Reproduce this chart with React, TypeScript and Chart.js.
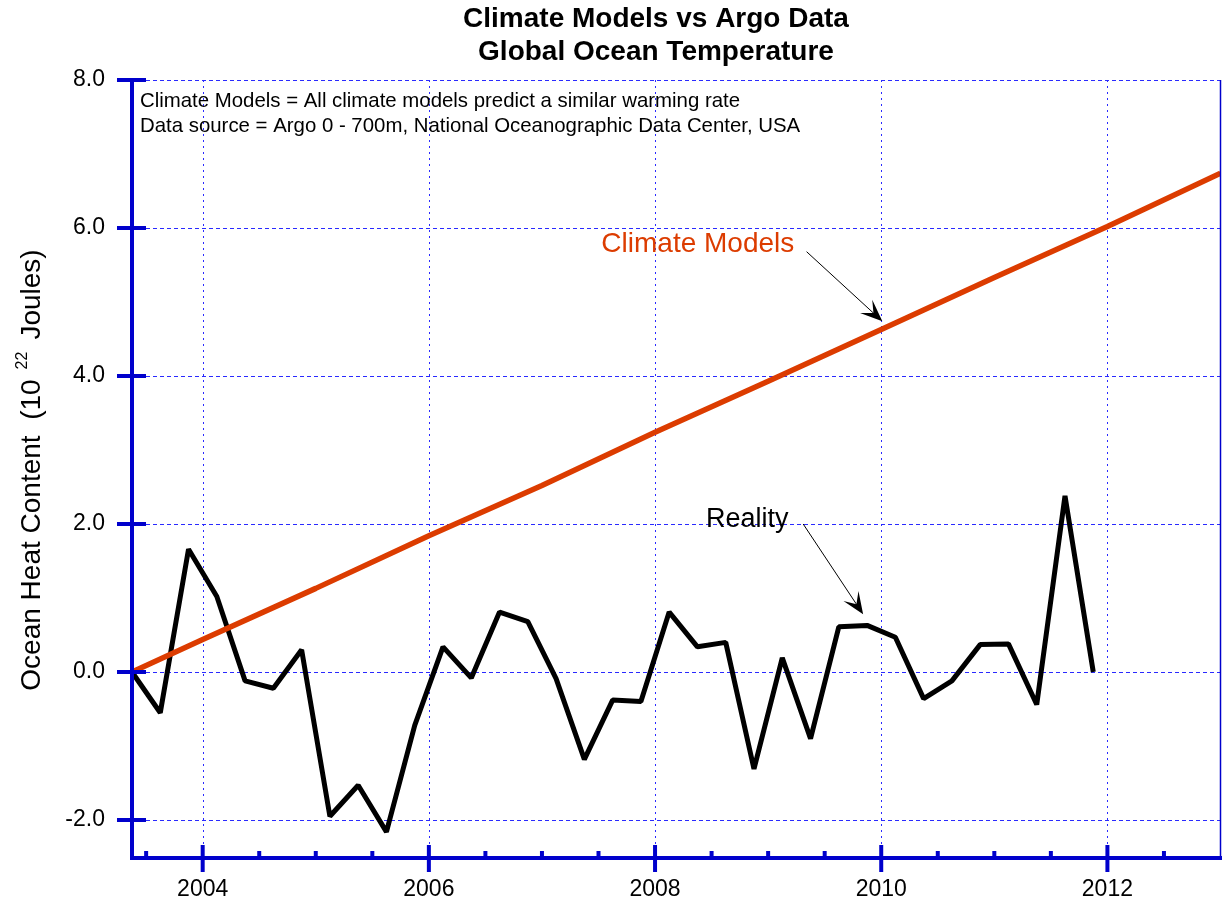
import React, { useEffect, useRef } from "react";
import { Chart, registerables } from "chart.js";

Chart.register(...registerables);

// ---- Data ----
const REALITY_YEARS = [
  2003.375, 2003.625, 2003.875, 2004.125, 2004.375, 2004.625, 2004.875, 2005.125,
  2005.375, 2005.625, 2005.875, 2006.125, 2006.375, 2006.625, 2006.875, 2007.125,
  2007.375, 2007.625, 2007.875, 2008.125, 2008.375, 2008.625, 2008.875, 2009.125,
  2009.375, 2009.625, 2009.875, 2010.125, 2010.375, 2010.625, 2010.875, 2011.125,
  2011.375, 2011.625, 2011.875,
];
const REALITY_VALUES = [
  0, -0.55, 1.66, 1.02, -0.12, -0.22, 0.3, -1.95,
  -1.53, -2.16, -0.72, 0.34, -0.08, 0.81, 0.68, -0.09,
  -1.18, -0.38, -0.4, 0.81, 0.34, 0.4, -1.31, 0.19,
  -0.9, 0.61, 0.63, 0.47, -0.36, -0.12, 0.37, 0.38,
  -0.44, 2.38, 0.0,
];
const MODEL_YEARS = [2003.375, 2004, 2005, 2006, 2007, 2008, 2009, 2010, 2011, 2012, 2013];
const MODEL_VALUES = [0, 0.44, 1.13, 1.84, 2.52, 3.24, 3.93, 4.63, 5.33, 6.02, 6.74];

const X_MIN = 2003.375;
const X_MAX = 2013;
const Y_MIN = -2.5;
const Y_MAX = 8;
const X_MAJOR_TICKS = [2004, 2006, 2008, 2010, 2012];
const X_MINOR_TICKS = [
  2003.5, 2004.5, 2005, 2005.5, 2006.5, 2007, 2007.5, 2008.5, 2009, 2009.5,
  2010.5, 2011, 2011.5, 2012.5,
];
const Y_TICKS = [-2, 0, 2, 4, 6, 8];

const TITLE_LINES = ["Climate Models vs Argo Data", "Global Ocean Temperature"];
const NOTE_LINES = [
  "Climate Models = All climate models predict a similar warming rate",
  "Data source = Argo 0 - 700m, National Oceanographic Data Center, USA",
];
const Y_TITLE_PARTS = ["Ocean Heat Content  (10", "22", "Joules)"];
// annotation anchors in data coordinates: [x, y]
const MODEL_LABEL = { text: "Climate Models", at: [2007.525, 5.78], from: [2009.34, 5.68], to: [2010.01, 4.74] };
const REALITY_LABEL = { text: "Reality", at: [2008.45, 2.06], from: [2009.31, 2.0], to: [2009.84, 0.78] };

const FONT = "'Liberation Sans', Arial, Helvetica, sans-serif";
const AXIS_BLUE = "#0000cc";
const GRID_BLUE = "#2a2aff";
const MODEL_RED = "#dc3c00";

function arrow(ctx: CanvasRenderingContext2D, x1: number, y1: number, x2: number, y2: number) {
  const ang = Math.atan2(y2 - y1, x2 - x1);
  const len = 22;
  const hw = 9;
  const bx = x2 - len * Math.cos(ang);
  const by = y2 - len * Math.sin(ang);
  ctx.save();
  ctx.strokeStyle = "#000";
  ctx.fillStyle = "#000";
  ctx.lineWidth = 1;
  ctx.beginPath();
  ctx.moveTo(x1, y1);
  ctx.lineTo(x2 - 10 * Math.cos(ang), y2 - 10 * Math.sin(ang));
  ctx.stroke();
  const px = -Math.sin(ang);
  const py = Math.cos(ang);
  const ix = x2 - len * 0.55 * Math.cos(ang);
  const iy = y2 - len * 0.55 * Math.sin(ang);
  ctx.beginPath();
  ctx.moveTo(x2, y2);
  ctx.lineTo(bx + px * hw, by + py * hw);
  ctx.lineTo(ix, iy);
  ctx.lineTo(bx - px * hw, by - py * hw);
  ctx.closePath();
  ctx.fill();
  ctx.restore();
}

const decorPlugin = {
  id: "decor",
  beforeDatasetsDraw(chart: any) {
    const { ctx, chartArea: a, scales } = chart;
    const x = scales.x;
    const y = scales.y;
    ctx.save();
    ctx.lineWidth = 1;
    ctx.strokeStyle = GRID_BLUE;
    ctx.setLineDash([4, 3]);
    for (const v of Y_TICKS) {
      const py = Math.round(y.getPixelForValue(v)) + 0.5;
      ctx.beginPath();
      ctx.moveTo(a.left, py);
      ctx.lineTo(a.right, py);
      ctx.stroke();
    }
    ctx.setLineDash([2, 4]);
    for (const v of X_MAJOR_TICKS) {
      const px = Math.round(x.getPixelForValue(v)) + 0.5;
      ctx.beginPath();
      ctx.moveTo(px, a.top);
      ctx.lineTo(px, a.bottom);
      ctx.stroke();
    }
    ctx.restore();
  },
  afterDatasetsDraw(chart: any) {
    const { ctx, chartArea: a, scales } = chart;
    const x = scales.x;
    const y = scales.y;
    ctx.save();
    ctx.strokeStyle = AXIS_BLUE;
    ctx.setLineDash([]);
    // right border
    ctx.lineWidth = 1.5;
    ctx.beginPath();
    ctx.moveTo(a.right, a.top);
    ctx.lineTo(a.right, a.bottom);
    ctx.stroke();
    // left axis
    ctx.lineWidth = 4;
    ctx.beginPath();
    ctx.moveTo(a.left, a.top - 2);
    ctx.lineTo(a.left, a.bottom + 2);
    ctx.stroke();
    // bottom axis
    ctx.beginPath();
    ctx.moveTo(a.left - 2, a.bottom + 1);
    ctx.lineTo(a.right + 2, a.bottom + 1);
    ctx.stroke();
    // y major ticks
    for (const v of Y_TICKS) {
      const py = y.getPixelForValue(v);
      ctx.beginPath();
      ctx.moveTo(a.left - 15, py);
      ctx.lineTo(a.left + 14, py);
      ctx.stroke();
    }
    // x major ticks
    for (const v of X_MAJOR_TICKS) {
      const px = x.getPixelForValue(v);
      ctx.beginPath();
      ctx.moveTo(px, a.bottom - 12);
      ctx.lineTo(px, a.bottom + 15);
      ctx.stroke();
    }
    // x minor ticks
    for (const v of X_MINOR_TICKS) {
      const px = x.getPixelForValue(v);
      ctx.beginPath();
      ctx.moveTo(px, a.bottom - 6);
      ctx.lineTo(px, a.bottom + 1);
      ctx.stroke();
    }
    ctx.restore();

    // annotations
    ctx.save();
    ctx.textBaseline = "middle";
    ctx.textAlign = "left";
    ctx.font = `28px ${FONT}`;
    ctx.fillStyle = MODEL_RED;
    ctx.fillText(MODEL_LABEL.text, x.getPixelForValue(MODEL_LABEL.at[0]), y.getPixelForValue(MODEL_LABEL.at[1]));
    ctx.font = `27px ${FONT}`;
    ctx.fillStyle = "#000";
    ctx.fillText(REALITY_LABEL.text, x.getPixelForValue(REALITY_LABEL.at[0]), y.getPixelForValue(REALITY_LABEL.at[1]));
    arrow(ctx, x.getPixelForValue(MODEL_LABEL.from[0]), y.getPixelForValue(MODEL_LABEL.from[1]),
      x.getPixelForValue(MODEL_LABEL.to[0]), y.getPixelForValue(MODEL_LABEL.to[1]));
    arrow(ctx, x.getPixelForValue(REALITY_LABEL.from[0]), y.getPixelForValue(REALITY_LABEL.from[1]),
      x.getPixelForValue(REALITY_LABEL.to[0]), y.getPixelForValue(REALITY_LABEL.to[1]));

    // note text
    ctx.font = `20.4px ${FONT}`;
    ctx.fillStyle = "#000";
    ctx.fillText(NOTE_LINES[0], a.left + 8, a.top + 21);
    ctx.fillText(NOTE_LINES[1], a.left + 8, a.top + 46);
    ctx.restore();
  },
  afterDraw(chart: any) {
    const { ctx, chartArea: a } = chart;
    ctx.save();
    ctx.fillStyle = "#000";
    ctx.textAlign = "center";
    ctx.textBaseline = "middle";
    ctx.font = `bold 28px ${FONT}`;
    ctx.fillText(TITLE_LINES[0], 656, 19);
    ctx.fillText(TITLE_LINES[1], 656, 52);

    // y-axis title with superscript
    const cy = 470;
    ctx.translate(40, cy);
    ctx.rotate(-Math.PI / 2);
    ctx.textAlign = "left";
    ctx.textBaseline = "alphabetic";
    const mainFont = `28px ${FONT}`;
    const supFont = `16px ${FONT}`;
    ctx.font = mainFont;
    const w0 = ctx.measureText(Y_TITLE_PARTS[0]).width;
    const w2 = ctx.measureText(Y_TITLE_PARTS[2]).width;
    ctx.font = supFont;
    const w1 = ctx.measureText(Y_TITLE_PARTS[1]).width;
    const gap1 = 10;
    const gap2 = 12;
    const total = w0 + gap1 + w1 + gap2 + w2;
    let cx = -total / 2;
    ctx.font = mainFont;
    ctx.fillText(Y_TITLE_PARTS[0], cx, 0);
    cx += w0 + gap1;
    ctx.font = supFont;
    ctx.fillText(Y_TITLE_PARTS[1], cx, -13);
    cx += w1 + gap2;
    ctx.font = mainFont;
    ctx.fillText(Y_TITLE_PARTS[2], cx, 0);
    ctx.restore();
  },
};

export default function App() {
  const ref = useRef<HTMLCanvasElement | null>(null);
  useEffect(() => {
    if (!ref.current) return;
    const chart = new Chart(ref.current, {
      type: "line",
      data: {
        datasets: [
          {
            label: "Climate Models",
            data: MODEL_YEARS.map((yr, i) => ({ x: yr, y: MODEL_VALUES[i] })),
            borderColor: MODEL_RED,
            borderWidth: 5.5,
            pointRadius: 0,
            tension: 0,
            borderJoinStyle: "bevel",
          },
          {
            label: "Reality",
            data: REALITY_YEARS.map((yr, i) => ({ x: yr, y: REALITY_VALUES[i] })),
            borderColor: "#000",
            borderWidth: 5,
            pointRadius: 0,
            tension: 0,
            borderJoinStyle: "bevel",
          },
        ],
      },
      options: {
        animation: false,
        responsive: true,
        maintainAspectRatio: false,
        layout: { padding: { top: 80, right: 1.5, left: 0, bottom: 0 } },
        plugins: {
          legend: { display: false },
          tooltip: { enabled: false },
          title: { display: false },
        },
        scales: {
          x: {
            type: "linear",
            min: X_MIN,
            max: X_MAX,
            grid: { display: false, drawTicks: false },
            border: { display: false },
            afterBuildTicks: (s: any) => {
              s.ticks = X_MAJOR_TICKS.map((v) => ({ value: v }));
            },
            afterFit: (s: any) => {
              s.height = 44;
            },
            ticks: {
              autoSkip: false,
              maxRotation: 0,
              padding: 19,
              color: "#000",
              font: { family: FONT, size: 23 },
              callback: (v: any) => String(v),
            },
          },
          y: {
            type: "linear",
            min: Y_MIN,
            max: Y_MAX,
            grid: { display: false, drawTicks: false },
            border: { display: false },
            afterBuildTicks: (s: any) => {
              s.ticks = Y_TICKS.map((v) => ({ value: v }));
            },
            afterFit: (s: any) => {
              s.width = 132;
            },
            ticks: {
              padding: 27,
              color: "#000",
              font: { family: FONT, size: 23 },
              callback: (v: any) => Number(v).toFixed(1),
            },
          },
        },
      },
      plugins: [decorPlugin],
    } as any);
    return () => chart.destroy();
  }, []);
  return (
    <div style={{ position: "fixed", left: 0, top: 0, width: 1222, height: 901, background: "#fff" }}>
      <canvas ref={ref} />
    </div>
  );
}
